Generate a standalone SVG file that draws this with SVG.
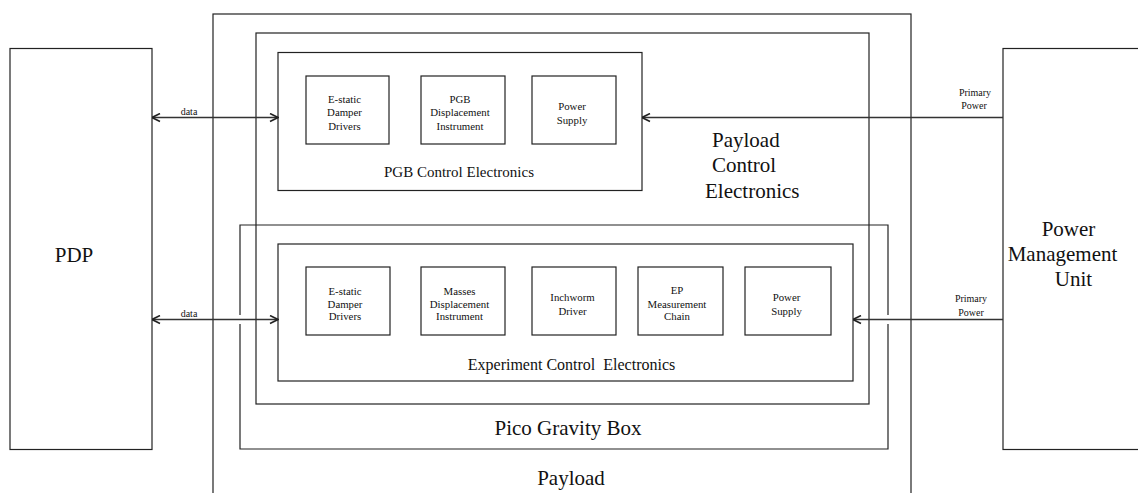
<svg xmlns="http://www.w3.org/2000/svg" width="1138" height="493" viewBox="0 0 1138 493" font-family="'Liberation Serif', 'Times New Roman', Times, 'DejaVu Serif', serif">
<style>
  .box { fill: none; stroke: #222; stroke-width: 1.2; }
  .conn { fill: none; stroke: #333; stroke-width: 1.3; }
  text { font-family: 'Liberation Serif', 'Times New Roman', Times, 'DejaVu Serif', serif; fill: #111; }
  .big { font-size: 21px; }
  .mid { font-size: 15px; text-anchor: middle; }
  .sm { font-size: 10.8px; text-anchor: middle; }
  .lbl { font-size: 10px; text-anchor: middle; }
  .c { text-anchor: middle; }
</style>
<defs>
  <marker id="arr" markerUnits="userSpaceOnUse" viewBox="0 0 10 10" refX="9.5" refY="5" markerWidth="10" markerHeight="10" orient="auto-start-reverse">
    <path d="M1.5,1 L9.5,5 L1.5,9" fill="none" stroke="#222" stroke-width="1.6"/>
  </marker>
</defs>
<rect width="1138" height="493" fill="#fff"/>

<g id="payload">
  <rect class="box" x="213" y="14" width="698" height="500"/>
  <text class="big c" x="571" y="485">Payload</text>
</g>

<g id="payload-control-electronics">
  <rect class="box" x="256" y="33" width="613" height="371"/>
  <text class="big" x="712" y="146.5">Payload</text>
  <text class="big" x="712" y="172">Control</text>
  <text class="big" x="705" y="198">Electronics</text>
</g>

<g id="pico-gravity-box">
  <path class="box" d="M240,315 V225 H888 V315 M888,324 V449 H240 V324"/>
  <text class="big c" x="568" y="435">Pico Gravity Box</text>
</g>

<g id="pgb-control-electronics">
  <rect class="box" x="278" y="52.5" width="364" height="138"/>
  <text class="mid" x="459" y="176.5">PGB Control Electronics</text>
</g>

<g id="pgb-estatic">
  <rect class="box" x="306" y="76" width="83" height="68"/>
  <text class="sm" x="344.5" y="102.5">E-static</text>
  <text class="sm" x="344.5" y="116">Damper</text>
  <text class="sm" x="344.5" y="129.5">Drivers</text>
</g>
<g id="pgb-displacement">
  <rect class="box" x="421" y="76" width="84" height="68"/>
  <text class="sm" x="460" y="102.5">PGB</text>
  <text class="sm" x="460" y="116">Displacement</text>
  <text class="sm" x="460" y="129.5">Instrument</text>
</g>
<g id="pgb-power">
  <rect class="box" x="532" y="76" width="84" height="68"/>
  <text class="sm" x="572" y="110">Power</text>
  <text class="sm" x="572" y="124">Supply</text>
</g>

<g id="experiment-control-electronics">
  <rect class="box" x="278" y="244" width="575" height="137"/>
  <text class="mid" x="571.5" y="369.5" style="font-size:16px;white-space:pre" xml:space="preserve">Experiment Control  Electronics</text>
</g>

<g id="ece-estatic">
  <rect class="box" x="306" y="267" width="84" height="68"/>
  <text class="sm" x="345" y="295">E-static</text>
  <text class="sm" x="345" y="307.5">Damper</text>
  <text class="sm" x="345" y="320">Drivers</text>
</g>
<g id="ece-masses">
  <rect class="box" x="421" y="267" width="84" height="68"/>
  <text class="sm" x="459.5" y="295">Masses</text>
  <text class="sm" x="459.5" y="307.5">Displacement</text>
  <text class="sm" x="459.5" y="320">Instrument</text>
</g>
<g id="ece-inchworm">
  <rect class="box" x="532" y="267" width="84" height="68"/>
  <text class="sm" x="572.5" y="301">Inchworm</text>
  <text class="sm" x="572.5" y="314.5">Driver</text>
</g>
<g id="ece-ep">
  <rect class="box" x="638" y="267" width="85" height="68"/>
  <text class="sm" x="677" y="294">EP</text>
  <text class="sm" x="677" y="307.5">Measurement</text>
  <text class="sm" x="677" y="320">Chain</text>
</g>
<g id="ece-power">
  <rect class="box" x="745" y="267" width="86" height="68"/>
  <text class="sm" x="786.5" y="301">Power</text>
  <text class="sm" x="786.5" y="314.5">Supply</text>
</g>

<g id="pdp">
  <rect class="box" x="10" y="48.5" width="142" height="401"/>
  <text class="big c" x="74" y="261.5">PDP</text>
</g>

<g id="pmu">
  <rect class="box" x="1003" y="48.5" width="150" height="401"/>
  <text class="big c" x="1068.5" y="236">Power</text>
  <text class="big c" x="1062.5" y="261">Management</text>
  <text class="big c" x="1073.5" y="286">Unit</text>
</g>

<g id="connectors">
  <line class="conn" x1="152" y1="117.5" x2="278" y2="117.5" marker-start="url(#arr)" marker-end="url(#arr)"/>
  <text class="lbl" x="189" y="114.5">data</text>
  <line class="conn" x1="152" y1="319.5" x2="278" y2="319.5" marker-start="url(#arr)" marker-end="url(#arr)"/>
  <text class="lbl" x="189" y="316.5">data</text>
  <line class="conn" x1="1003" y1="117.5" x2="642" y2="117.5" marker-end="url(#arr)"/>
  <text class="lbl" x="975" y="95.5">Primary</text>
  <text class="lbl" x="974" y="108.5">Power</text>
  <line class="conn" x1="1003" y1="319.5" x2="853" y2="319.5" marker-end="url(#arr)"/>
  <text class="lbl" x="971" y="301.5">Primary</text>
  <text class="lbl" x="971" y="315.5">Power</text>
</g>
</svg>
